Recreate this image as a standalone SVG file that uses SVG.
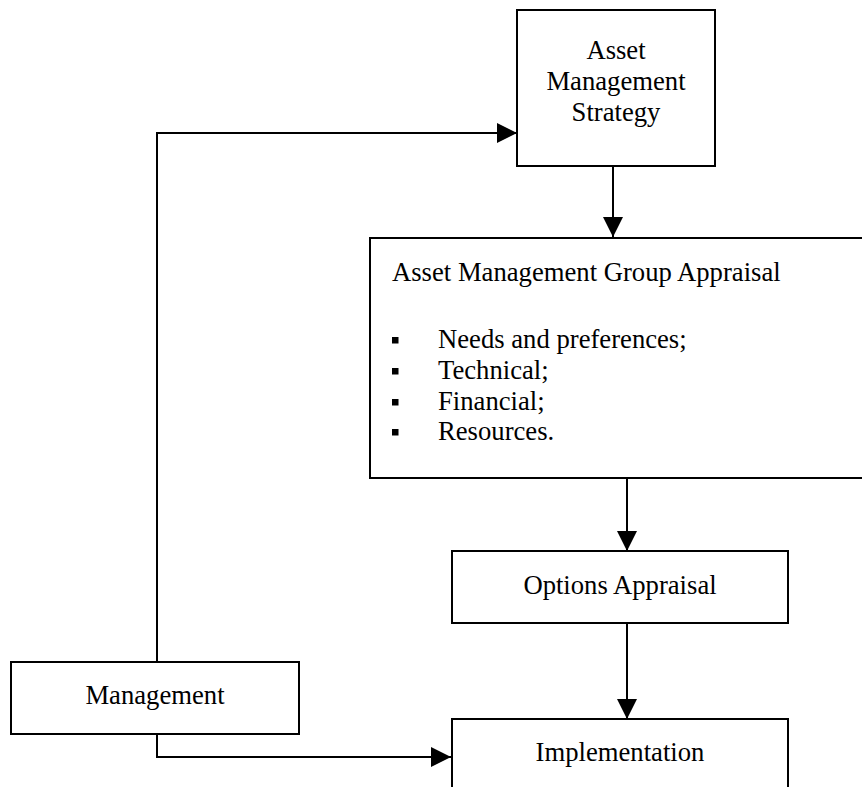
<svg xmlns="http://www.w3.org/2000/svg" width="862" height="787" viewBox="0 0 862 787">
  <style>
    .box { fill: #ffffff; stroke: #000000; stroke-width: 2; }
    .lbl { font-family: "Liberation Serif", "Times New Roman", serif; font-size: 26.67px; fill: #000000; }
    .mid { text-anchor: middle; }
    .conn { fill: none; stroke: #000000; stroke-width: 2; }
    .bullet { fill: #000000; }
  </style>
  <defs>
    <marker id="arrow" markerUnits="userSpaceOnUse" markerWidth="20" markerHeight="20" refX="20" refY="10" orient="auto">
      <path d="M0,0 L20,10 L0,20 Z" fill="#000000"/>
    </marker>
  </defs>

  <rect width="862" height="787" fill="#ffffff"/>

  <!-- connectors -->
  <g id="connectors">
    <line class="conn" x1="613" y1="166" x2="613" y2="237" marker-end="url(#arrow)"/>
    <line class="conn" x1="627" y1="478" x2="627" y2="551" marker-end="url(#arrow)"/>
    <line class="conn" x1="627" y1="623" x2="627" y2="719" marker-end="url(#arrow)"/>
    <polyline class="conn" points="157,662 157,133 517,133" marker-end="url(#arrow)"/>
    <polyline class="conn" points="157,734 157,757 451,757" marker-end="url(#arrow)"/>
  </g>

  <!-- Asset Management Strategy -->
  <g id="strategy">
    <rect class="box" x="517" y="10" width="198" height="156"/>
    <text class="lbl mid" x="616" y="59">Asset</text>
    <text class="lbl mid" x="616" y="90">Management</text>
    <text class="lbl mid" x="616" y="121">Strategy</text>
  </g>

  <!-- Asset Management Group Appraisal -->
  <g id="group-appraisal">
    <rect class="box" x="370" y="238" width="510" height="240"/>
    <text class="lbl" x="392" y="281">Asset Management Group Appraisal</text>
    <rect class="bullet" x="392" y="337" width="6.5" height="6.5"/>
    <text class="lbl" x="438" y="348">Needs and preferences;</text>
    <rect class="bullet" x="392" y="368" width="6.5" height="6.5"/>
    <text class="lbl" x="438" y="379">Technical;</text>
    <rect class="bullet" x="392" y="399" width="6.5" height="6.5"/>
    <text class="lbl" x="438" y="410">Financial;</text>
    <rect class="bullet" x="392" y="429" width="6.5" height="6.5"/>
    <text class="lbl" x="438" y="440">Resources.</text>
  </g>

  <!-- Options Appraisal -->
  <g id="options">
    <rect class="box" x="452" y="551" width="336" height="72"/>
    <text class="lbl mid" x="620" y="594">Options Appraisal</text>
  </g>

  <!-- Implementation -->
  <g id="implementation">
    <rect class="box" x="452" y="719" width="336" height="90"/>
    <text class="lbl mid" x="620" y="761">Implementation</text>
  </g>

  <!-- Management -->
  <g id="management">
    <rect class="box" x="11" y="662" width="288" height="72"/>
    <text class="lbl mid" x="155" y="704">Management</text>
  </g>
</svg>
